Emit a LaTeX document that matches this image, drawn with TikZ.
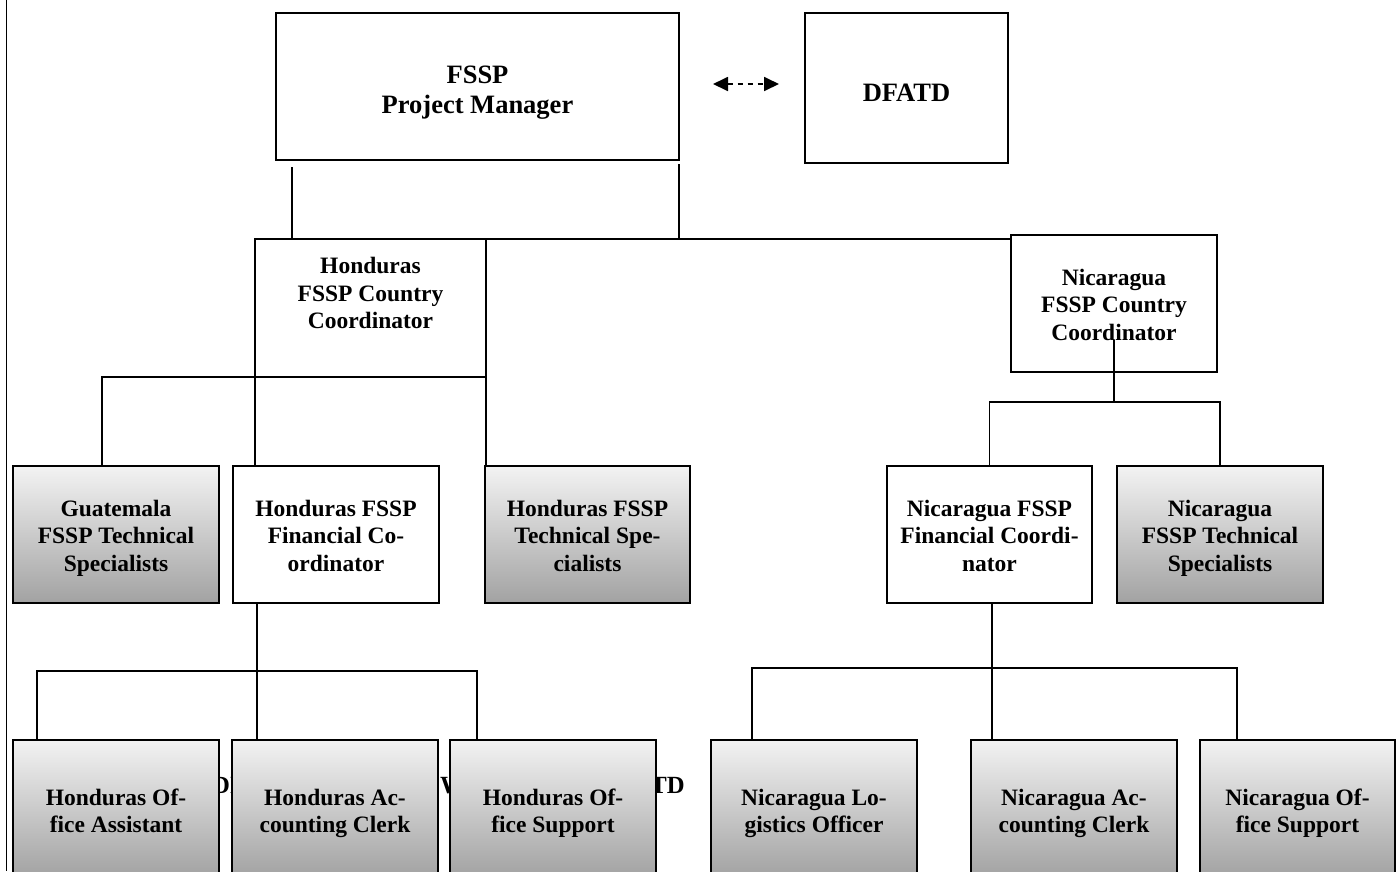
\documentclass[tikz,border=0pt]{standalone}
\usepackage{fontspec}
\setmainfont{Liberation Serif}
\usetikzlibrary{arrows.meta,positioning,calc}
\definecolor{chtop}{HTML}{F3F3F3}
\definecolor{chbot}{HTML}{A2A2A2}
\tikzset{
  orgbox/.style={draw=black, line width=1.8pt, fill=white, align=center, inner sep=0pt, outer sep=0pt,
    minimum width=206pt, minimum height=137pt, text height=73pt, text depth=0pt,
    font=\fontsize{23.5}{27.5}\selectfont\bfseries},
  staffbox/.style={orgbox, top color=chtop, bottom color=chbot},
  tworow/.style={text height=48.5pt, text depth=0pt},
  headbox/.style={orgbox, font=\fontsize{26.5}{30}\selectfont\bfseries},
  orgline/.style={draw=black, line width=1.8pt},
  linkarrow/.style={{Triangle[length=15pt,width=14pt]}-{Triangle[length=15pt,width=14pt]},
    line width=1.8pt, dash pattern=on 5pt off 5pt},
  bgtitle/.style={font=\fontsize{24.7}{28}\selectfont\bfseries, inner sep=0pt}
}
\begin{document}
\begin{tikzpicture}[x=1pt,y=-1pt]
    \clip (0,0) rectangle (1398,871);
    \useasboundingbox (0,0) rectangle (1398,871);
    \coordinate (ruletop) at (6.5,0);
    \coordinate (rulebot) at (6.5,871);
    \draw[orgline] (ruletop) -- (rulebot);

    % title, mostly hidden by the lowest row
    \node[bgtitle, anchor=base east] (ttl) at (685,793) {COORDINATION IN FSSP WORK WITH DFATD};

    \node[headbox, minimum width=403pt, minimum height=147pt, text height=54pt] (pm) at (477.5,86.5) {FSSP\\Project Manager};
    \node[headbox, minimum width=203pt, minimum height=150pt, text height=28pt, text depth=0.5pt] (dfatd) at (906.5,88) {DFATD};
    \coordinate (linkL) at (713,84);
    \coordinate (linkR) at (779,84);

    \node[orgbox, minimum width=231pt, minimum height=138pt, text height=41pt] (hcc) at (370.5,308) {Honduras\\FSSP Country\\Coordinator};
    \node[orgbox] (ncc) at (1114,303.5) {Nicaragua\\FSSP Country\\Coordinator};

    \node[staffbox] (gtm) at (116,534.5) {Guatemala\\FSSP Technical\\Specialists};
    \node[orgbox, right=14pt of gtm] (hfc) {Honduras FSSP\\Financial Co-\\ordinator};
    \node[staffbox, minimum width=205pt, right=46pt of hfc] (hts) {Honduras FSSP\\Technical Spe-\\cialists};
    \node[orgbox, minimum width=205pt] (nfc) at (989.5,534.5) {Nicaragua FSSP\\Financial Coordi-\\nator};
    \node[staffbox, right=25pt of nfc] (nts) {Nicaragua\\FSSP Technical\\Specialists};

    \node[staffbox, tworow] (hoa) at (116,808.5) {Honduras Of-\\fice Assistant};
    \node[staffbox, tworow, right=13pt of hoa] (hac) {Honduras Ac-\\counting Clerk};
    \node[staffbox, tworow, right=12pt of hac] (hos) {Honduras Of-\\fice Support};
    \node[staffbox, tworow, right=55pt of hos] (nlo) {Nicaragua Lo-\\gistics Officer};
    \node[staffbox, tworow, right=54pt of nlo] (nac) {Nicaragua Ac-\\counting Clerk};
    \node[staffbox, tworow, minimum width=195pt, right=23pt of nac] (nos) {Nicaragua Of-\\fice Support};

    \draw[linkarrow] (linkL) -- (linkR);

    % manager to the two country coordinators
    \coordinate (pmtapL) at (292,167);
    \coordinate (pmtapR) at (679,164);
    \draw[orgline] (hcc.north west) -- (hcc.north west -| ncc.west);
    \draw[orgline] (pmtapL) -- (pmtapL |- hcc.north);
    \draw[orgline] (pmtapR) -- (pmtapR |- hcc.north);

    % Honduras
    \draw[orgline] (hcc.south west) -- (hcc.south west |- hfc.north);
    \draw[orgline] (hcc.south east) -- (hcc.south east |- hts.north);
    \draw[orgline] (hcc.south west) -| ([xshift=-14pt]gtm.north);

    \coordinate (hfcdrop) at (257,671);
    \coordinate (hbarL) at (37,671);
    \coordinate (hbarR) at (477,671);
    \draw[orgline] (hfcdrop |- hfc.south) -- (hfcdrop |- hac.north);
    \draw[orgline] (hbarL |- hoa.north) -- (hbarL) -- (hbarR) -- (hbarR |- hos.north);

    % Nicaragua
    \coordinate (ncctap) at (1114,340);
    \draw[orgline] (ncctap) -- ++(0,62) coordinate (nccbar);
    \draw[orgline] (nfc.north) |- (nccbar) -| (nts.north);

    \coordinate (nfcdrop) at (992,668);
    \coordinate (nbarL) at (752,668);
    \coordinate (nbarR) at (1237,668);
    \draw[orgline] (nfcdrop |- nfc.south) -- (nfcdrop |- nac.north);
    \draw[orgline] (nbarL |- nlo.north) -- (nbarL) -- (nbarR) -- (nbarR |- nos.north);
\end{tikzpicture}
\end{document}
